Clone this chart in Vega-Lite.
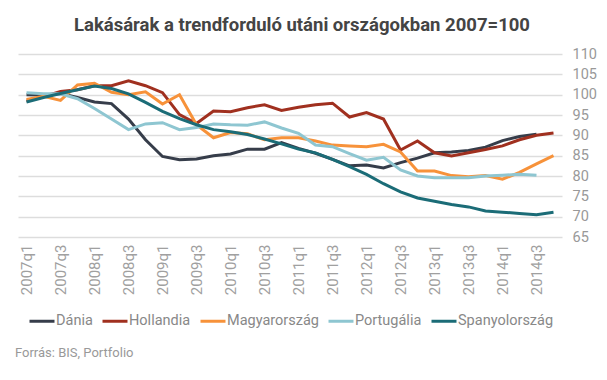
{
  "$schema": "https://vega.github.io/schema/vega-lite/v6.json",
  "padding": {"left": 15, "top": 15, "right": 5, "bottom": 5},
  "background": "white",
  "config": {"view": {"stroke": null}, "font": "Roboto"},
  "title": {"text": "Forrás: BIS, Portfolio", "orient": "bottom", "anchor": "start", "fontSize": 13, "fontWeight": "normal", "color": "#999999", "font": "Roboto", "offset": 9, "dx": -3},
  "vconcat": [
    {
      "width": 544,
      "height": 183,
      "title": {"text": "Lakásárak a trendforduló utáni országokban 2007=100", "fontSize": 18.5, "fontWeight": "bold", "color": "#444444", "anchor": "middle", "offset": 12, "dx": 12, "font": "Roboto"},
      "data": {"values": [
        {"q": "2007q1", "Dánia": 100.0, "Hollandia": 98.4, "Magyarország": 98.8, "Portugália": 100.5, "Spanyolország": 98.2},
        {"q": "2007q2", "Dánia": 99.9, "Hollandia": 99.5, "Magyarország": 99.6, "Portugália": 100.2, "Spanyolország": 99.3},
        {"q": "2007q3", "Dánia": 100.3, "Hollandia": 100.8, "Magyarország": 98.6, "Portugália": 100.2, "Spanyolország": 100.3},
        {"q": "2007q4", "Dánia": 99.3, "Hollandia": 101.2, "Magyarország": 102.4, "Portugália": 99.0, "Spanyolország": 101.2},
        {"q": "2008q1", "Dánia": 98.2, "Hollandia": 102.2, "Magyarország": 102.8, "Portugália": 96.6, "Spanyolország": 102.1},
        {"q": "2008q2", "Dánia": 97.8, "Hollandia": 102.2, "Magyarország": 100.6, "Portugália": 94.0, "Spanyolország": 101.5},
        {"q": "2008q3", "Dánia": 94.0, "Hollandia": 103.4, "Magyarország": 100.0, "Portugália": 91.4, "Spanyolország": 100.2},
        {"q": "2008q4", "Dánia": 88.9, "Hollandia": 102.2, "Magyarország": 100.7, "Portugália": 92.8, "Spanyolország": 98.1},
        {"q": "2009q1", "Dánia": 84.8, "Hollandia": 100.5, "Magyarország": 97.7, "Portugália": 93.1, "Spanyolország": 95.9},
        {"q": "2009q2", "Dánia": 84.0, "Hollandia": 95.1, "Magyarország": 100.0, "Portugália": 91.4, "Spanyolország": 94.1},
        {"q": "2009q3", "Dánia": 84.2, "Hollandia": 92.9, "Magyarország": 92.6, "Portugália": 91.9, "Spanyolország": 92.6},
        {"q": "2009q4", "Dánia": 85.0, "Hollandia": 96.0, "Magyarország": 89.4, "Portugália": 92.8, "Spanyolország": 91.4},
        {"q": "2010q1", "Dánia": 85.4, "Hollandia": 95.8, "Magyarország": 90.7, "Portugália": 92.6, "Spanyolország": 90.9},
        {"q": "2010q2", "Dánia": 86.6, "Hollandia": 96.8, "Magyarország": 90.4, "Portugália": 92.5, "Spanyolország": 90.2},
        {"q": "2010q3", "Dánia": 86.6, "Hollandia": 97.5, "Magyarország": 88.9, "Portugália": 93.3, "Spanyolország": 89.1},
        {"q": "2010q4", "Dánia": 88.2, "Hollandia": 96.1, "Magyarország": 89.4, "Portugália": 91.8, "Spanyolország": 87.9},
        {"q": "2011q1", "Dánia": 86.8, "Hollandia": 96.9, "Magyarország": 89.4, "Portugália": 90.5, "Spanyolország": 86.6},
        {"q": "2011q2", "Dánia": 85.6, "Hollandia": 97.5, "Magyarország": 88.6, "Portugália": 87.6, "Spanyolország": 85.7},
        {"q": "2011q3", "Dánia": 84.1, "Hollandia": 97.9, "Magyarország": 87.6, "Portugália": 87.2, "Spanyolország": 84.1},
        {"q": "2011q4", "Dánia": 82.5, "Hollandia": 94.5, "Magyarország": 87.4, "Portugália": 85.5, "Spanyolország": 82.3},
        {"q": "2012q1", "Dánia": 82.7, "Hollandia": 95.6, "Magyarország": 87.2, "Portugália": 83.9, "Spanyolország": 80.4},
        {"q": "2012q2", "Dánia": 82.0, "Hollandia": 94.0, "Magyarország": 87.8, "Portugália": 84.6, "Spanyolország": 78.1},
        {"q": "2012q3", "Dánia": 83.3, "Hollandia": 86.4, "Magyarország": 85.9, "Portugália": 81.5, "Spanyolország": 76.1},
        {"q": "2012q4", "Dánia": 84.4, "Hollandia": 88.6, "Magyarország": 81.2, "Portugália": 80.0, "Spanyolország": 74.6},
        {"q": "2013q1", "Dánia": 85.7, "Hollandia": 85.7, "Magyarország": 81.2, "Portugália": 79.6, "Spanyolország": 73.8},
        {"q": "2013q2", "Dánia": 85.9, "Hollandia": 84.9, "Magyarország": 80.1, "Portugália": 79.6, "Spanyolország": 73.0},
        {"q": "2013q3", "Dánia": 86.3, "Hollandia": 85.7, "Magyarország": 79.8, "Portugália": 79.6, "Spanyolország": 72.4},
        {"q": "2013q4", "Dánia": 87.1, "Hollandia": 86.5, "Magyarország": 80.1, "Portugália": 80.0, "Spanyolország": 71.4},
        {"q": "2014q1", "Dánia": 88.7, "Hollandia": 87.4, "Magyarország": 79.2, "Portugália": 80.2, "Spanyolország": 71.1},
        {"q": "2014q2", "Dánia": 89.7, "Hollandia": 88.9, "Magyarország": 80.9, "Portugália": 80.4, "Spanyolország": 70.8},
        {"q": "2014q3", "Dánia": 90.3, "Hollandia": 90.0, "Magyarország": 83.0, "Portugália": 80.2, "Spanyolország": 70.5},
        {"q": "2014q4", "Dánia": null, "Hollandia": 90.6, "Magyarország": 85.0, "Portugália": null, "Spanyolország": 71.1}
      ]},
      "transform": [
        {"fold": ["Dánia", "Hollandia", "Magyarország", "Portugália", "Spanyolország"], "as": ["orszag", "ertek"]}
      ],
      "mark": {"type": "line", "strokeWidth": 3},
      "encoding": {
        "x": {
          "field": "q", "type": "ordinal",
          "scale": {"type": "point", "padding": 0.5},
          "axis": {
            "title": null, "grid": false, "domain": false, "ticks": false,
            "labelAngle": -90, "labelColor": "#a0a0a0", "labelFontSize": 15, "labelPadding": 7,
            "values": ["2007q1","2007q3","2008q1","2008q3","2009q1","2009q3","2010q1","2010q3","2011q1","2011q3","2012q1","2012q3","2013q1","2013q3","2014q1","2014q3"]
          }
        },
        "y": {
          "field": "ertek", "type": "quantitative",
          "scale": {"domain": [65, 110], "nice": false, "zero": false},
          "axis": {
            "orient": "right", "title": null, "domain": false, "ticks": false,
            "gridColor": "#dddddd", "gridWidth": 1.5,
            "labelColor": "#999999", "labelFontSize": 14.5, "labelPadding": 10,
            "values": [65, 70, 75, 80, 85, 90, 95, 100, 105, 110]
          }
        },
        "color": {
          "field": "orszag", "type": "nominal",
          "scale": {
            "domain": ["Dánia", "Hollandia", "Magyarország", "Portugália", "Spanyolország"],
            "range": ["#363d4a", "#a0301f", "#f7923a", "#8ec6d1", "#1b6c77"]
          },
          "legend": {
            "orient": "bottom", "direction": "horizontal", "title": null,
            "symbolType": "stroke", "symbolStrokeWidth": 3, "symbolSize": 625,
            "labelFontSize": 14.5, "labelColor": "#888888", "labelOffset": 0,
            "columnPadding": 3, "offset": 2, "padding": 10
          }
        }
      }
    }
  ]
}
